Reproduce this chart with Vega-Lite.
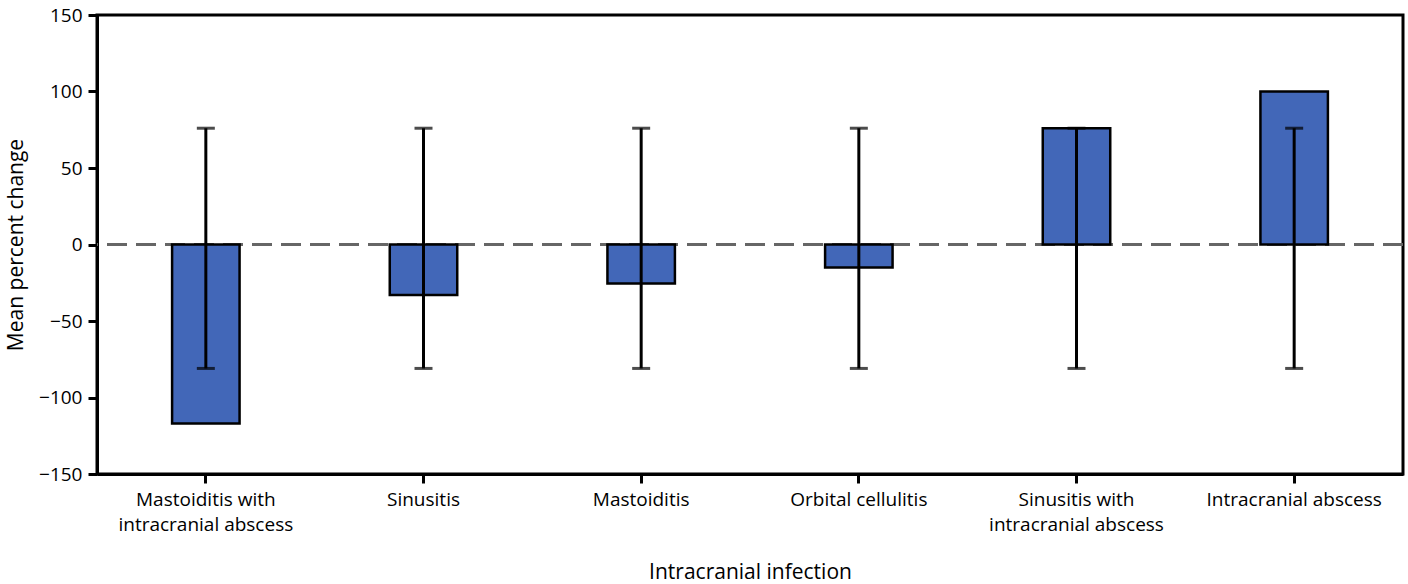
{
  "$schema": "https://vega.github.io/schema/vega-lite/v6.json",
  "autosize": {"type": "none"},
  "padding": {"left": 97, "top": 15, "right": 5, "bottom": 110},
  "width": 1306,
  "height": 459,
  "background": "white",
  "config": {
    "font": "Open Sans",
    "view": {"stroke": "black", "strokeWidth": 3},
    "axis": {
      "domainColor": "black", "domainWidth": 3, "tickColor": "black", "tickWidth": 3, "tickSize": 9,
      "labelFont": "Open Sans", "labelFontSize": 19, "labelColor": "black",
      "titleFont": "Open Sans", "titleFontSize": 21, "titleFontWeight": "normal", "titleColor": "black",
      "grid": false
    }
  },
  "data": {
    "values": [
      {"infection": "Mastoiditis with intracranial abscess", "change": -117, "lower": -81, "upper": 76},
      {"infection": "Sinusitis", "change": -33, "lower": -81, "upper": 76},
      {"infection": "Mastoiditis", "change": -25.5, "lower": -81, "upper": 76},
      {"infection": "Orbital cellulitis", "change": -15, "lower": -81, "upper": 76},
      {"infection": "Sinusitis with intracranial abscess", "change": 76, "lower": -81, "upper": 76},
      {"infection": "Intracranial abscess", "change": 100, "lower": -81, "upper": 76}
    ]
  },
  "encoding": {
    "x": {
      "field": "infection", "type": "nominal", "sort": null,
      "scale": {"paddingInner": 0.69, "paddingOuter": 0.345},
      "axis": {
        "title": "Intracranial infection", "labelAngle": 0, "labelPadding": 7, "titlePadding": 27,
        "labelLineHeight": 25, "labelBaseline": "top",
        "labelExpr": "datum.label == 'Mastoiditis with intracranial abscess' ? ['Mastoiditis with', 'intracranial abscess'] : datum.label == 'Sinusitis with intracranial abscess' ? ['Sinusitis with', 'intracranial abscess'] : datum.label"
      }
    }
  },
  "layer": [
    {
      "mark": {"type": "rule", "color": "#666666", "strokeWidth": 3, "strokeDash": [20, 9]},
      "encoding": {"x": null, "y": {"datum": 0, "type": "quantitative"}}
    },
    {
      "mark": {"type": "bar", "color": "#4267B8", "stroke": "black", "strokeWidth": 2.5},
      "encoding": {
        "y": {
          "field": "change", "type": "quantitative",
          "scale": {"domain": [-150, 150], "nice": false},
          "axis": {"title": "Mean percent change", "values": [-150, -100, -50, 0, 50, 100, 150], "labelPadding": 6, "titlePadding": 12, "labelExpr": "replace(datum.label, '-', '−')"}
        }
      }
    },
    {
      "mark": {"type": "rule", "color": "black", "strokeWidth": 3},
      "encoding": {"y": {"field": "lower", "type": "quantitative"}, "y2": {"field": "upper"}}
    },
    {
      "mark": {"type": "tick", "color": "black", "thickness": 3, "size": 18},
      "encoding": {"y": {"field": "lower", "type": "quantitative"}}
    },
    {
      "mark": {"type": "tick", "color": "black", "thickness": 3, "size": 18},
      "encoding": {"y": {"field": "upper", "type": "quantitative"}}
    }
  ]
}
